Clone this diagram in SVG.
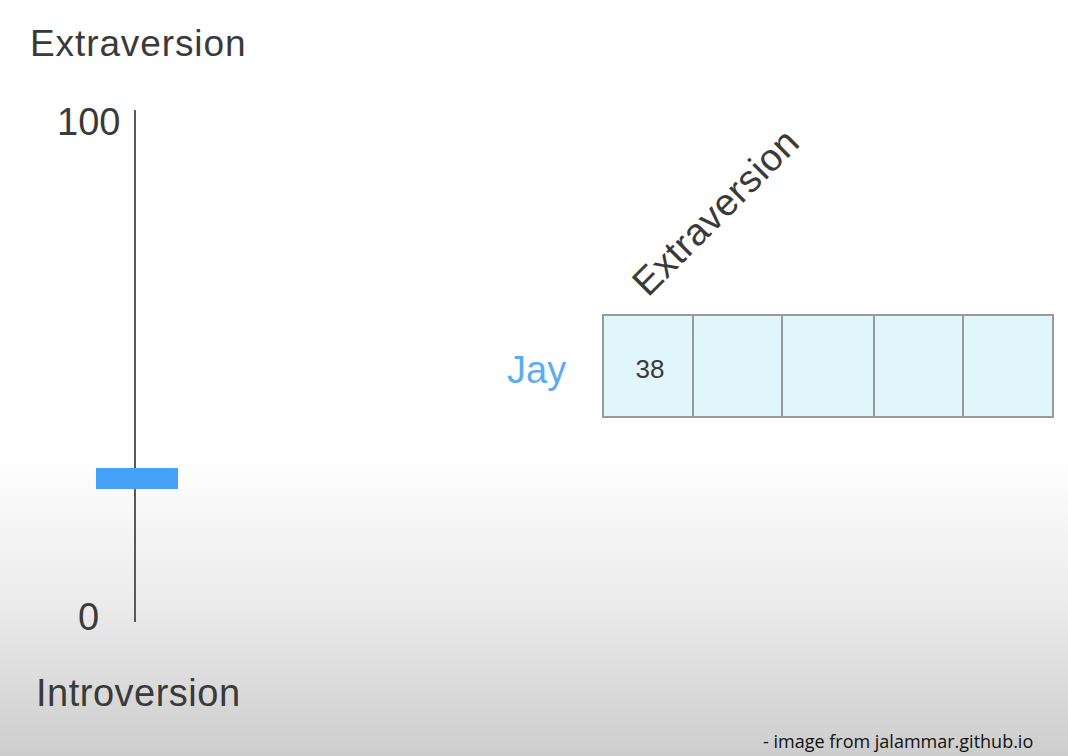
<svg xmlns="http://www.w3.org/2000/svg" width="1068" height="756" viewBox="0 0 1068 756">
<defs>
<linearGradient id="bg" x1="0" y1="0" x2="0" y2="756" gradientUnits="userSpaceOnUse">
<stop offset="0" stop-color="#ffffff"/>
<stop offset="0.6" stop-color="#ffffff"/>
<stop offset="0.8" stop-color="#ebebeb"/>
<stop offset="1" stop-color="#cdcdcd"/>
</linearGradient>
</defs>
<style>
.t{font-family:"Liberation Sans",Arial,sans-serif;fill:#3a3a3a}
.cell{fill:#e1f5fd;stroke:#9a9a9a;stroke-width:2}
</style>
<rect x="0" y="0" width="1068" height="756" fill="url(#bg)"/>
<g id="scale">
<text class="t" x="30" y="56" font-size="37" letter-spacing="0.9">Extraversion</text>
<text class="t" x="57" y="135" font-size="38">100</text>
<line x1="135" y1="110" x2="135" y2="622" stroke="#5a5a5a" stroke-width="2"/>
<rect x="96" y="468" width="82" height="21" fill="#46a2f7"/>
<text class="t" x="78" y="630" font-size="38">0</text>
<text class="t" x="36" y="706" font-size="38" letter-spacing="0.5">Introversion</text>
</g>
<g id="table">
<text class="t" x="0" y="0" font-size="38" letter-spacing="0.5" transform="translate(648,298) rotate(-45)">Extraversion</text>
<text x="507" y="383" font-family="Liberation Sans,Arial,sans-serif" font-size="38" fill="#5badf2">Jay</text>
<rect class="cell" x="603" y="315" width="90" height="102"/>
<rect class="cell" x="693" y="315" width="89" height="102"/>
<rect class="cell" x="782" y="315" width="92" height="102"/>
<rect class="cell" x="874" y="315" width="89" height="102"/>
<rect class="cell" x="963" y="315" width="90" height="102"/>
<text class="t" x="650" y="378" font-size="26" text-anchor="middle" fill="#4a4f55">38</text>
</g>
<text x="763" y="748" font-family="Open Sans,sans-serif" font-size="18" fill="#111">- image from jalammar.github.io</text>
</svg>
